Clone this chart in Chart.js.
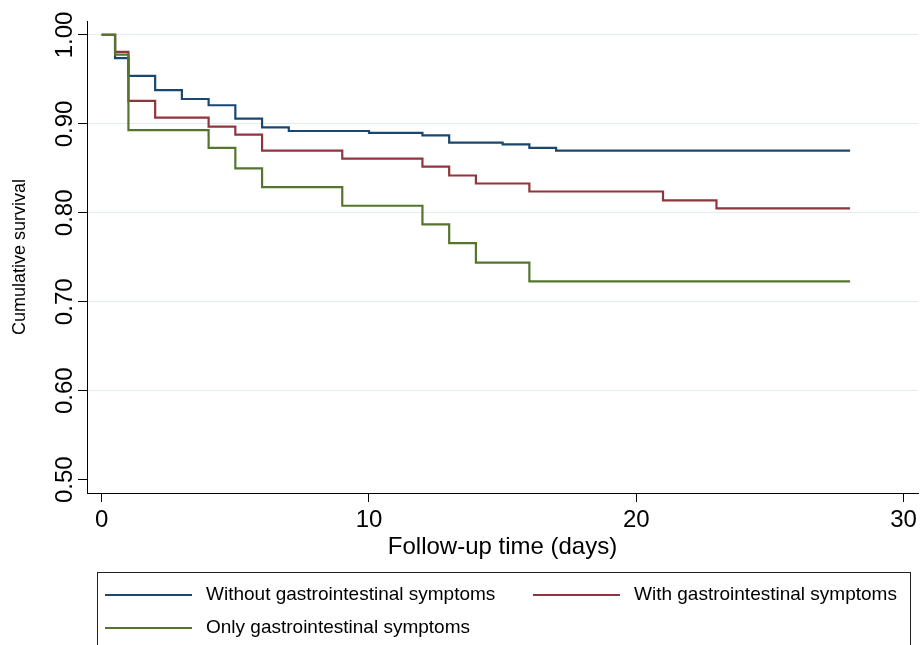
<!DOCTYPE html>
<html>
<head>
<meta charset="utf-8">
<title>Cumulative survival</title>
<script src="https://cdn.jsdelivr.net/npm/chart.js@4.4.0/dist/chart.umd.min.js"></script>
<style>
  html, body { margin: 0; padding: 0; background: #fff; }
  #wrap { width: 921px; height: 645px; position: relative; }
</style>
</head>
<body>
<div id="wrap"><canvas id="kmChart"></canvas></div>
<script>
// Kaplan-Meier estimates (day, survival)
const seriesNames = ['Without gastrointestinal symptoms', 'With gastrointestinal symptoms', 'Only gastrointestinal symptoms'];

const withoutDays = [0, 0.5, 1, 2, 3, 4, 5, 6, 7, 10, 12, 13, 15, 16, 17, 28];
const withoutSurv = [1, 0.974, 0.954, 0.938, 0.928, 0.921, 0.906, 0.896, 0.892, 0.890, 0.887, 0.879, 0.877, 0.873, 0.870, 0.870];

const withDays = [0, 0.5, 1, 2, 4, 5, 6, 9, 12, 13, 14, 16, 21, 23, 28];
const withSurv = [1, 0.981, 0.926, 0.907, 0.897, 0.888, 0.870, 0.861, 0.852, 0.842, 0.833, 0.824, 0.814, 0.805, 0.805];

const onlyDays = [0, 0.5, 1, 4, 5, 6, 9, 12, 13, 14, 16, 28];
const onlySurv = [1, 0.978, 0.893, 0.873, 0.850, 0.829, 0.808, 0.787, 0.766, 0.744, 0.723, 0.723];

const xTicks = [0, 10, 20, 30];
const yTicks = [0.5, 0.6, 0.7, 0.8, 0.9, 1.0];

const colors = ['#1a476f', '#90353b', '#55752f'];
const FONT = '"Liberation Sans", Arial, sans-serif';

Chart.defaults.font.family = FONT;
Chart.defaults.color = '#000';

function toPoints(days, surv) {
  return days.map((d, i) => ({ x: d, y: surv[i] }));
}

// legend drawn as a box under the axis title, like the original
const boxLegend = {
  id: 'boxLegend',
  afterDraw(chart) {
    const ctx = chart.ctx;
    ctx.save();
    ctx.strokeStyle = '#222';
    ctx.lineWidth = 1;
    ctx.strokeRect(97.5, 572.5, 813, 120);
    const slots = [[105, 595], [533, 595], [105, 628]];
    chart.data.datasets.forEach((ds, i) => {
      const [x, y] = slots[i];
      ctx.strokeStyle = ds.borderColor;
      ctx.lineWidth = 2;
      ctx.beginPath();
      ctx.moveTo(x, y);
      ctx.lineTo(x + 87, y);
      ctx.stroke();
      ctx.fillStyle = '#000';
      ctx.font = '19px ' + FONT;
      ctx.textBaseline = 'middle';
      ctx.fillText(ds.label, x + 101, y);
    });
    ctx.restore();
  }
};

const ctx = document.getElementById('kmChart').getContext('2d');

new Chart(ctx, {
  type: 'line',
  data: {
    datasets: [
      { label: seriesNames[0], data: toPoints(withoutDays, withoutSurv), borderColor: colors[0], order: 2 },
      { label: seriesNames[1], data: toPoints(withDays, withSurv), borderColor: colors[1], order: 1 },
      { label: seriesNames[2], data: toPoints(onlyDays, onlySurv), borderColor: colors[2], order: 0 }
    ]
  },
  options: {
    responsive: true,
    maintainAspectRatio: false,
    animation: false,
    layout: { padding: { top: 21, right: 3, left: 0, bottom: 0 } },
    elements: {
      line: { stepped: 'before', borderWidth: 2.2, fill: false, tension: 0 },
      point: { radius: 0 }
    },
    plugins: {
      legend: { display: false },
      tooltip: { enabled: false }
    },
    scales: {
      x: {
        type: 'linear',
        min: -0.55,
        max: 30.54,
        afterBuildTicks: (scale) => { scale.ticks = xTicks.map(v => ({ value: v })); },
        afterFit: (scale) => { scale.height = 152; },
        border: { color: '#000', width: 1 },
        grid: { drawOnChartArea: false, drawTicks: true, tickLength: 9, tickColor: '#000' },
        ticks: { font: { size: 24 }, padding: 4, maxRotation: 0, callback: v => v },
        title: {
          display: true,
          text: 'Follow-up time (days)',
          font: { size: 24 },
          padding: { top: 0, bottom: 83 }
        }
      },
      y: {
        type: 'linear',
        min: 0.485,
        max: 1.0157,
        afterBuildTicks: (scale) => { scale.ticks = yTicks.map(v => ({ value: v })); },
        afterFit: (scale) => { scale.width = 87; },
        border: { color: '#000', width: 1 },
        grid: {
          color: c => (c.tick && c.tick.value === 0.5) ? 'rgba(0,0,0,0)' : '#e3ecef',
          lineWidth: 1,
          drawTicks: true,
          tickLength: 9,
          tickColor: '#000'
        },
        ticks: {
          font: { size: 24 },
          minRotation: 90,
          maxRotation: 90,
          crossAlign: 'center',
          padding: -11,
          callback: v => Number(v).toFixed(2)
        },
        title: {
          display: true,
          text: 'Cumulative survival',
          font: { size: 18 },
          padding: { top: 9, bottom: 0 }
        }
      }
    }
  },
  plugins: [boxLegend]
});
</script>
</body>
</html>
